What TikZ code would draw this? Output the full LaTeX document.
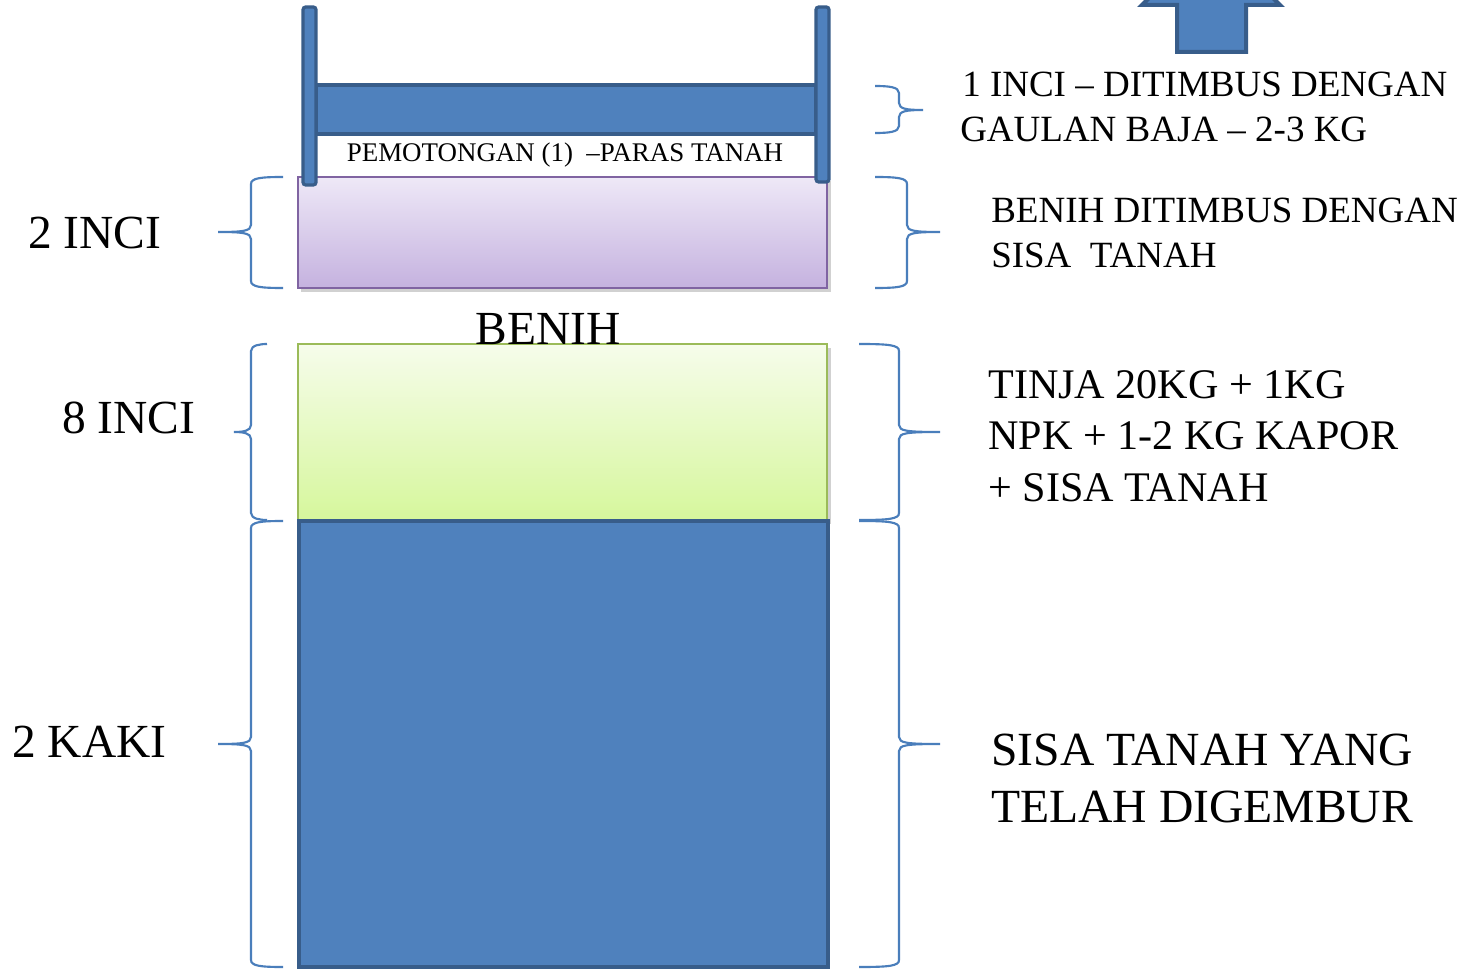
\documentclass[tikz,border=0pt]{standalone}
\usepackage{fontspec}
\setmainfont{Liberation Serif}
\definecolor{bfill}{HTML}{4F81BD}
\definecolor{bline}{HTML}{385D8A}
\definecolor{pline}{HTML}{8064A2}
\definecolor{ptop}{HTML}{EEE8F7}
\definecolor{pbot}{HTML}{C5B2DF}
\definecolor{gline}{HTML}{9BBB59}
\definecolor{gtop}{HTML}{F6FCEB}
\definecolor{gbot}{HTML}{D6F79C}
\definecolor{brc}{HTML}{4A7EBB}
% #1 end x, #2 spine x, #3 tip x, #4 top y, #5 middle y, #6 bottom y
\newcommand\braceOpen[6]{%
  \draw[bracestyle] (#1,#4) .. controls (#2+10,#4) and (#2,#4+1) .. (#2,#4+7)
    -- (#2,#5-7) .. controls (#2,#5-1) and (#2-8,#5) .. (#3,#5)
    .. controls (#2-8,#5) and (#2,#5+1) .. (#2,#5+7)
    -- (#2,#6-7) .. controls (#2,#6-1) and (#2+10,#6) .. (#1,#6);}
\newcommand\braceClose[6]{%
  \draw[bracestyle] (#1,#4) .. controls (#2-10,#4) and (#2,#4+1) .. (#2,#4+7)
    -- (#2,#5-7) .. controls (#2,#5-1) and (#2+8,#5) .. (#3,#5)
    .. controls (#2+8,#5) and (#2,#5+1) .. (#2,#5+7)
    -- (#2,#6-7) .. controls (#2,#6-1) and (#2-10,#6) .. (#1,#6);}
\begin{document}
\begin{tikzpicture}[x=0.75pt,y=-0.75pt,
  bracestyle/.style={draw=brc,line width=1.6pt},
  bluepart/.style={fill=bfill,draw=bline,line width=3pt},
  postpart/.style={fill=bfill,draw=bline,line width=2.4pt,rounded corners=2pt},
  shadowpart/.style={fill=black,opacity=0.18},
  bigtxt/.style={font=\fontsize{35.6}{40}\selectfont,anchor=base west,inner sep=0pt},
  midtxt/.style={font=\fontsize{27.75}{33}\selectfont,anchor=base west,inner sep=0pt},
  tinjatxt/.style={font=\fontsize{31.6}{38}\selectfont,anchor=base west,inner sep=0pt},
  sisatxt/.style={font=\fontsize{35.7}{42}\selectfont,anchor=base west,inner sep=0pt},
  smalltxt/.style={font=\fontsize{20.2}{24}\selectfont,anchor=base,inner sep=0pt}]
\useasboundingbox (0,0) rectangle (1480,969);
\fill[white] (0,0) rectangle (1480,969);
% top arrow (cut off)
\begin{scope}
\clip (0,0) rectangle (1480,969);
\draw[bluepart] (1177,52) -- (1177,5) -- (1142,5) -- (1211,-64) -- (1280,5) -- (1246,5) -- (1246,52) -- cycle;
\end{scope}
% layers
\fill[shadowpart] (301,181) rectangle (831,292);
\shade[top color=ptop,bottom color=pbot] (298,177) rectangle (827,288);
\draw[pline,line width=1.2pt] (298,177) rectangle (827,288);
\fill[shadowpart] (301,348) rectangle (831,524);
\shade[top color=gtop,bottom color=gbot] (298,344) rectangle (827,520);
\draw[gline,line width=1.4pt] (298,344) rectangle (827,520);
\draw[bluepart] (299,521) rectangle (828,967);
% cutting bar
\draw[bluepart] (316,85) rectangle (816,134);
\draw[postpart] (303,7) rectangle (316,185);
\draw[postpart] (816,7) rectangle (829,182);
% braces left
\braceOpen{283}{251}{218}{177}{232}{288}
\braceOpen{267}{251}{234}{344}{432}{520}
\braceOpen{283}{251}{218}{521}{744}{967}
% braces right
\braceClose{875}{899}{923}{86}{110}{133}
\braceClose{875}{907}{940}{177}{232}{288}
\braceClose{859}{899}{940}{344}{432}{520}
\braceClose{859}{899}{940}{521}{744}{967}
% texts
\node[smalltxt] (cut) at (565,162) {PEMOTONGAN (1)\ \ –PARAS TANAH};
\node[bigtxt] (inci2) at (28,249) {2 INCI};
\node[bigtxt] (inci8) at (62,433) {8 INCI};
\node[bigtxt] (kaki2) at (12,757) {2 KAKI};
\node[bigtxt,anchor=base] (benih) at (548,345) {BENIH};
\node[midtxt] (r1a) at (962,97) {1 INCI – DITIMBUS DENGAN};
\node[midtxt] (r1b) at (960,142) {GAULAN BAJA – 2-3 KG};
\node[midtxt] (r2a) at (991,223) {BENIH DITIMBUS DENGAN};
\node[midtxt] (r2b) at (991,268) {SISA\ \ TANAH};
\node[tinjatxt] (r3a) at (988,399) {TINJA 20KG + 1KG};
\node[tinjatxt] (r3b) at (988,450) {NPK + 1-2 KG KAPOR};
\node[tinjatxt] (r3c) at (988,501) {+ SISA TANAH};
\node[sisatxt] (r4a) at (991,765) {SISA TANAH YANG};
\node[sisatxt] (r4b) at (991,822) {TELAH DIGEMBUR};
\end{tikzpicture}
\end{document}
